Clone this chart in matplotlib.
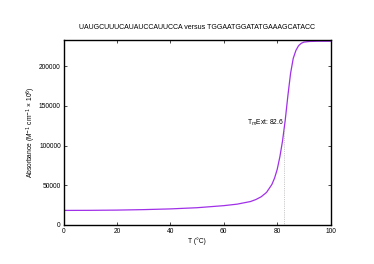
import numpy as np
import matplotlib
matplotlib.use("Agg")
import matplotlib.pyplot as plt

plt.rcParams['font.family'] = ['Liberation Sans', 'DejaVu Sans']

title = "UAUGCUUUCAUAUCCAUUCCA versus TGGAATGGATATGAAAGCATACC"

# melting curve
temp = [0, 10, 20, 30, 40, 50, 60, 65, 70, 72, 74, 76, 78, 79, 80, 81, 82,
        83, 84, 85, 86, 87, 88, 89, 90, 92, 95, 100]
absorb = [18300, 18400, 18700, 19300, 20200, 21700, 24300, 26200, 29500,
          32000, 35500, 41000, 51000, 59000, 70000, 86000, 106000,
          132000, 163000, 191000, 210000, 220000, 226000, 229000, 230500,
          231300, 231600, 231600]
tm = 82.6
tm_val = 122000
label_y = 129000

fig = plt.figure(figsize=(3.74, 2.64), dpi=100)
ax = fig.add_axes([0.170, 0.148, 0.714, 0.700])

ax.plot(temp, absorb, color='#a030e8', lw=0.9)
ax.plot([tm, tm], [0, tm_val], color='#999999', lw=0.5, ls=':')
ax.text(tm, label_y, "T$_m$Ext: 82.6", ha='right', va='center', fontsize=4.8)

ax.set_xlim(0, 100)
ax.set_ylim(0, 233000)
ax.set_xticks([0, 20, 40, 60, 80, 100])
ax.set_yticks([0, 50000, 100000, 150000, 200000])
ax.tick_params(direction='in', length=2, width=0.5, labelsize=4.8,
               top=True, right=True, pad=2)
for s in ax.spines.values():
    s.set_linewidth(1.0)

ax.set_title(title, fontsize=5, pad=8)
ax.set_xlabel("T (°C)", fontsize=4.8, labelpad=2)
ax.set_ylabel("Absorbance (M$^{-1}$ cm$^{-1}$ × 10$^{6}$)", fontsize=4.8, labelpad=1)

fig.savefig("out.png", dpi=100)
